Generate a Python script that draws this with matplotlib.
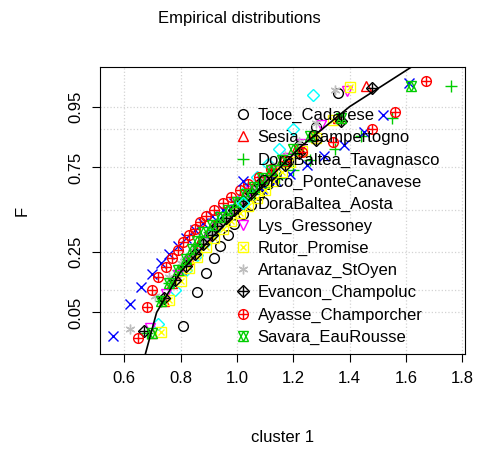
import numpy as np
import matplotlib.pyplot as plt
from statistics import NormalDist

plt.rcParams['font.family'] = ['Liberation Sans', 'DejaVu Sans']
nd = NormalDist()

stations = ["Toce_Cadarese", "Sesia_Campertogno", "DoraBaltea_Tavagnasco",
            "Orco_PonteCanavese", "DoraBaltea_Aosta", "Lys_Gressoney",
            "Rutor_Promise", "Artanavaz_StOyen", "Evancon_Champoluc",
            "Ayasse_Champorcher", "Savara_EauRousse"]

# sorted sample values (cluster 1, dimensionless)
values = [
    [0.81, 0.86, 0.89, 0.92, 0.94, 0.97, 0.99, 1.02, 1.05, 1.08, 1.11, 1.14, 1.18, 1.22, 1.28, 1.36],
    [0.70, 0.74, 0.77, 0.80, 0.83, 0.85, 0.87, 0.90, 0.92, 0.94, 0.97, 1.00, 1.03, 1.06, 1.09, 1.12, 1.16, 1.21, 1.27, 1.36, 1.46],
    [0.68, 0.73, 0.76, 0.79, 0.82, 0.85, 0.88, 0.90, 0.93, 0.96, 0.99, 1.02, 1.06, 1.10, 1.15, 1.20, 1.26, 1.35, 1.44, 1.55, 1.76],
    [0.56, 0.62, 0.66, 0.70, 0.73, 0.76, 0.79, 0.82, 0.85, 0.88, 0.91, 0.95, 0.99, 1.04, 1.09, 1.14, 1.19, 1.25, 1.31, 1.38, 1.45, 1.52, 1.61],
    [0.72, 0.78, 0.82, 0.86, 0.89, 0.92, 0.95, 0.98, 1.01, 1.04, 1.07, 1.11, 1.15, 1.20, 1.27],
    [0.69, 0.75, 0.79, 0.83, 0.86, 0.90, 0.93, 0.96, 0.99, 1.02, 1.05, 1.09, 1.13, 1.18, 1.23, 1.30, 1.39],
    [0.73, 0.76, 0.80, 0.83, 0.86, 0.89, 0.92, 0.95, 0.98, 1.01, 1.04, 1.07, 1.10, 1.13, 1.16, 1.19, 1.23, 1.28, 1.34, 1.40],
    [0.62, 0.71, 0.76, 0.80, 0.84, 0.88, 0.91, 0.94, 0.97, 1.00, 1.03, 1.06, 1.09, 1.13, 1.17, 1.22, 1.28, 1.35],
    [0.67, 0.74, 0.78, 0.82, 0.85, 0.88, 0.91, 0.93, 0.96, 0.99, 1.02, 1.05, 1.08, 1.12, 1.17, 1.22, 1.28, 1.37, 1.48],
    [0.65, 0.68, 0.70, 0.72, 0.75, 0.77, 0.79, 0.81, 0.83, 0.85, 0.87, 0.89, 0.92, 0.95, 0.98, 1.01, 1.04, 1.08, 1.12, 1.17, 1.23, 1.34, 1.48, 1.56, 1.67],
    [0.70, 0.73, 0.76, 0.79, 0.82, 0.84, 0.86, 0.88, 0.91, 0.94, 0.97, 1.00, 1.03, 1.06, 1.09, 1.12, 1.16, 1.20, 1.26, 1.37, 1.62],
]

# fitted distribution
fit_x = [0.675, 0.715, 0.80, 0.90, 1.01, 1.115, 1.225, 1.40, 1.62]
fit_F = [0.0104, 0.05, 0.159, 0.309, 0.5, 0.691, 0.841, 0.95, 0.9887]

colors = ["black", "red", "#00CD00", "blue", "cyan", "magenta", "yellow", "#BEBEBE",
          "black", "red", "#00CD00"]

z = lambda p: nd.inv_cdf(p)

fig = plt.figure(figsize=(4.79, 4.54), dpi=100)
ax = fig.add_axes([100/479, 1-354/454, 365/479, 287/454])
ax.set_xlim(0.514, 1.81)
ax.set_ylim(-2.31, 2.28)

gridF = [0.05, 0.1, 0.25, 0.5, 0.75, 0.9, 0.95]
for g in gridF:
    ax.axhline(z(g), color="lightgray", ls=":", lw=0.9, zorder=0)
for g in np.arange(0.6, 1.81, 0.2):
    ax.axvline(g, color="lightgray", ls=":", lw=0.9, zorder=0)

handles = []
ms = 7
for i, (name, v) in enumerate(zip(stations, values)):
    n = len(v)
    zz = [z((k + 0.5) / n) for k in range(n)]
    c = colors[i]
    kw = dict(ls="none", ms=ms, mfc="none", mec=c, color=c, mew=1)
    if i == 0:
        h = ax.plot(v, zz, marker="o", **kw)[0]
    elif i == 1:
        h = ax.plot(v, zz, marker="^", **kw)[0]
    elif i == 2:
        h = ax.plot(v, zz, marker="+", ms=9, ls="none", color=c, mew=1)[0]
    elif i == 3:
        h = ax.plot(v, zz, marker="x", **kw)[0]
    elif i == 4:
        h = ax.plot(v, zz, marker="D", ms=6, ls="none", mfc="none", mec=c, mew=1)[0]
    elif i == 5:
        h = ax.plot(v, zz, marker="v", **kw)[0]
    elif i == 6:
        h1 = ax.plot(v, zz, marker="s", **kw)[0]
        h2 = ax.plot(v, zz, marker="x", ms=5, ls="none", color=c, mew=1)[0]
        h = (h1, h2)
    elif i == 7:
        h = ax.plot(v, zz, marker=(6, 2, 0), ms=7, ls="none", color=c, mew=1)[0]
    elif i == 8:
        h1 = ax.plot(v, zz, marker="D", ms=6, ls="none", mfc="none", mec=c, mew=1)[0]
        h2 = ax.plot(v, zz, marker="+", ms=7, ls="none", color=c, mew=1)[0]
        h = (h1, h2)
    elif i == 9:
        h1 = ax.plot(v, zz, marker="o", **kw)[0]
        h2 = ax.plot(v, zz, marker="+", ms=7, ls="none", color=c, mew=1)[0]
        h = (h1, h2)
    else:
        h1 = ax.plot(v, zz, marker="^", **kw)[0]
        h2 = ax.plot(v, zz, marker="v", **kw)[0]
        h = (h1, h2)
    handles.append(h)

ax.plot(fit_x, [z(p) for p in fit_F], color="black", lw=1.2)

ax.legend(handles, stations, loc="upper left", bbox_to_anchor=(0.35, 0.88),
          frameon=False, fontsize=12, handletextpad=0.4, labelspacing=0.42,
          handlelength=1.0, borderaxespad=0)

ax.set_xticks(np.arange(0.6, 1.81, 0.2))
ax.set_xticklabels(["0.6", "0.8", "1.0", "1.2", "1.4", "1.6", "1.8"])
yt = [0.05, 0.25, 0.75, 0.95]
ax.set_yticks([z(p) for p in yt])
ax.set_yticklabels([str(p) for p in yt], rotation=90, va="center")
ax.tick_params(labelsize=12, length=6, pad=6)
ax.set_xlabel("cluster 1", fontsize=12, labelpad=32)
ax.set_ylabel("F", fontsize=12, labelpad=28)
fig.text(0.5, 1-18/454, "Empirical distributions", ha="center", va="center", fontsize=12)
fig.savefig("out.png", dpi=100)
